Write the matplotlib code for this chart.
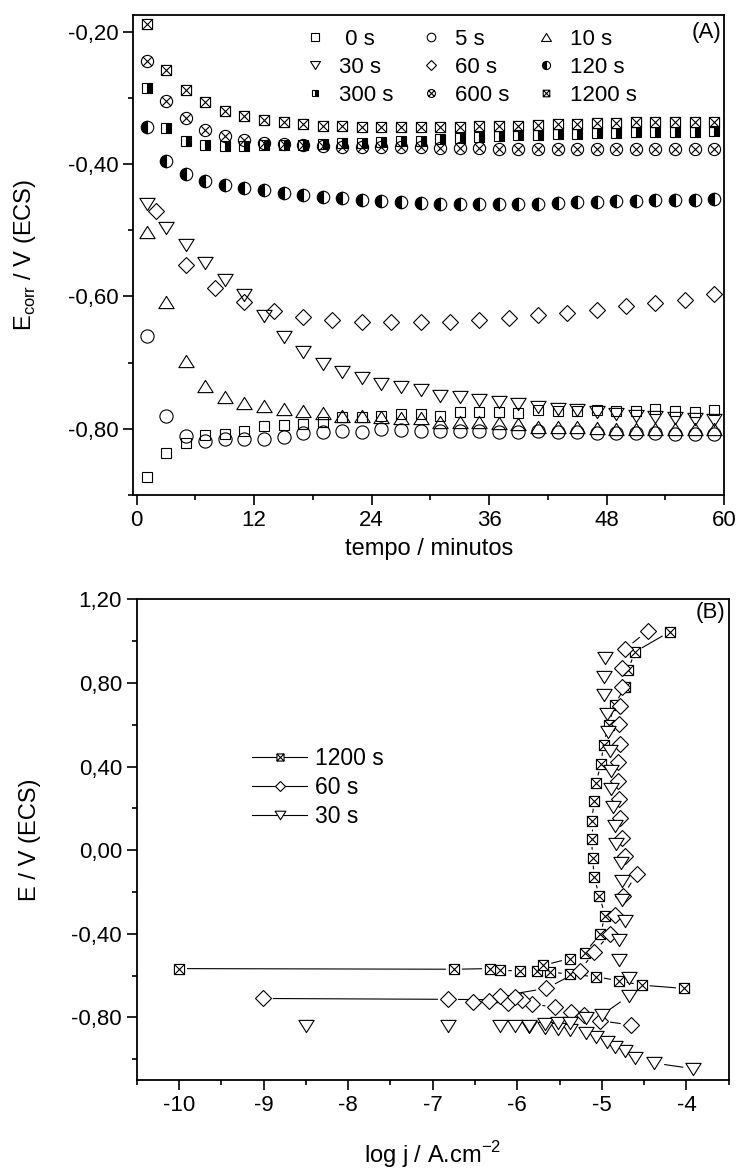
import matplotlib
matplotlib.use("Agg")
import numpy as np
import matplotlib.pyplot as plt
from matplotlib.path import Path
from matplotlib.lines import Line2D
from matplotlib.collections import LineCollection
from matplotlib.ticker import FuncFormatter, MultipleLocator

plt.rcParams['font.family'] = ['Liberation Sans', 'DejaVu Sans']

# ---------------- panel (A): Ecorr vs time ----------------
t_odd = list(range(1, 60, 2))
t_60s = list(range(2, 60, 3))

e_0s = [-0.873, -0.836, -0.821, -0.810, -0.808, -0.803, -0.796, -0.794, -0.793, -0.789,
        -0.782, -0.782, -0.780, -0.777, -0.777, -0.780, -0.775, -0.774, -0.774, -0.776,
        -0.771, -0.773, -0.773, -0.772, -0.773, -0.773, -0.770, -0.773, -0.774, -0.771]
e_5s = [-0.660, -0.781, -0.811, -0.818, -0.816, -0.816, -0.815, -0.812, -0.806, -0.805,
        -0.804, -0.805, -0.801, -0.802, -0.804, -0.804, -0.803, -0.804, -0.805, -0.805,
        -0.804, -0.805, -0.805, -0.806, -0.806, -0.806, -0.807, -0.808, -0.808, -0.808]
e_10s = [-0.503, -0.608, -0.698, -0.736, -0.752, -0.761, -0.765, -0.770, -0.773, -0.776,
         -0.780, -0.781, -0.782, -0.783, -0.784, -0.789, -0.790, -0.790, -0.792, -0.793,
         -0.798, -0.798, -0.798, -0.799, -0.800, -0.800, -0.800, -0.800, -0.800, -0.800]
e_30s = [-0.460, -0.497, -0.523, -0.549, -0.575, -0.598, -0.629, -0.661, -0.684, -0.702,
         -0.714, -0.723, -0.732, -0.737, -0.742, -0.750, -0.752, -0.757, -0.760, -0.762,
         -0.767, -0.770, -0.772, -0.775, -0.777, -0.780, -0.782, -0.783, -0.785, -0.786]
e_60s = [-0.471, -0.553, -0.588, -0.608, -0.622, -0.631, -0.636, -0.638, -0.639, -0.639,
         -0.638, -0.636, -0.632, -0.628, -0.625, -0.620, -0.615, -0.610, -0.606, -0.596]
e_120s = [-0.344, -0.395, -0.415, -0.425, -0.432, -0.437, -0.440, -0.444, -0.447, -0.450,
          -0.452, -0.454, -0.456, -0.458, -0.459, -0.460, -0.461, -0.461, -0.461, -0.460,
          -0.460, -0.459, -0.458, -0.457, -0.456, -0.456, -0.455, -0.455, -0.454, -0.453]
e_300s = [-0.285, -0.345, -0.365, -0.372, -0.373, -0.373, -0.372, -0.372, -0.371, -0.370,
          -0.369, -0.368, -0.367, -0.366, -0.365, -0.363, -0.361, -0.359, -0.358, -0.357,
          -0.356, -0.355, -0.354, -0.353, -0.353, -0.352, -0.352, -0.351, -0.351, -0.350]
e_600s = [-0.245, -0.305, -0.330, -0.348, -0.358, -0.364, -0.368, -0.370, -0.372, -0.373,
          -0.374, -0.374, -0.375, -0.375, -0.375, -0.376, -0.376, -0.376, -0.377, -0.377,
          -0.377, -0.377, -0.377, -0.377, -0.377, -0.377, -0.377, -0.377, -0.377, -0.377]
e_1200s = [-0.188, -0.258, -0.288, -0.307, -0.320, -0.328, -0.333, -0.337, -0.340, -0.342,
           -0.343, -0.344, -0.344, -0.344, -0.344, -0.344, -0.344, -0.343, -0.343, -0.342,
           -0.341, -0.340, -0.339, -0.338, -0.338, -0.337, -0.337, -0.336, -0.336, -0.336]

# ---------------- panel (B): polarisation curves ----------------
logj_1200 = [-4.03, -4.53, -4.80, -5.07, -5.38, -5.61, -5.77, -5.97, -6.20, -6.32, -6.75, -10.0,
             -5.69, -5.38, -5.20, -5.02, -4.96, -5.03, -5.09, -5.11, -5.12, -5.12, -5.09, -5.07,
             -5.01, -4.98, -4.92, -4.85, -4.73, -4.69, -4.61, -4.20]
e_1200 = [-0.662, -0.646, -0.625, -0.606, -0.594, -0.583, -0.578, -0.578, -0.575, -0.567, -0.570, -0.567,
          -0.551, -0.519, -0.490, -0.403, -0.313, -0.220, -0.130, -0.036, 0.053, 0.140, 0.236, 0.320,
          0.413, 0.505, 0.600, 0.693, 0.780, 0.860, 0.948, 1.044]
breaks_1200 = [11]

logj_60 = [-4.66, -5.02, -5.21, -5.37, -5.55, -5.82, -6.11, -6.52, -6.33, -5.94, -6.82, -9.01,
           -6.03, -6.20, -5.66, -5.26, -5.09, -4.90, -4.85, -4.75, -4.59, -4.73, -4.76, -4.78,
           -4.80, -4.81, -4.81, -4.79, -4.80, -4.78, -4.76, -4.76, -4.73, -4.46]
e_60 = [-0.837, -0.816, -0.789, -0.773, -0.752, -0.737, -0.733, -0.725, -0.721, -0.717, -0.714, -0.710,
        -0.702, -0.698, -0.662, -0.578, -0.487, -0.400, -0.310, -0.220, -0.115, -0.028, 0.060, 0.152,
        0.243, 0.333, 0.420, 0.509, 0.601, 0.689, 0.780, 0.869, 0.960, 1.049]
breaks_60 = [11]

logj_30 = [-3.92, -4.38, -4.61, -4.73, -4.84, -4.94, -5.07, -5.19, -5.38, -5.52, -5.67, -5.86,
           -6.03, -6.21, -6.82, -8.50, -5.86, -5.67, -5.52, -5.38, -5.19, -5.00, -4.68, -4.68,
           -4.80, -4.80, -4.73, -4.76, -4.76, -4.77, -4.83, -4.85, -4.87, -4.89, -4.89, -4.90,
           -4.93, -4.94, -4.97, -4.97, -4.96]
e_30 = [-1.046, -1.019, -0.995, -0.963, -0.940, -0.916, -0.892, -0.876, -0.862, -0.858, -0.852, -0.848,
        -0.844, -0.844, -0.844, -0.844, -0.841, -0.832, -0.829, -0.825, -0.805, -0.789, -0.698, -0.614,
        -0.527, -0.432, -0.337, -0.240, -0.150, -0.064, 0.029, 0.116, 0.204, 0.293, 0.380, 0.473,
        0.564, 0.649, 0.740, 0.828, 0.920]
breaks_30 = [13, 14, 15]

# custom marker shapes (Origin style)
box_x = Path([(-1, -1), (1, -1), (1, 1), (-1, 1), (-1, -1), (-1, -1), (1, 1), (-1, 1), (1, -1)],
             [1, 2, 2, 2, 79, 1, 2, 1, 2])
circle_x = Path.make_compound_path(
    Path.unit_circle(),
    Path([(-0.707, -0.707), (0.707, 0.707), (-0.707, 0.707), (0.707, -0.707)], [1, 2, 1, 2]))
tri_up = Path([(-1, -0.8), (1, -0.8), (0, 0.8), (-1, -0.8)], [1, 2, 2, 79])
tri_dn = Path([(-1, 0.8), (1, 0.8), (0, -0.8), (-1, 0.8)], [1, 2, 2, 79])

fmt2 = FuncFormatter(lambda v, p: f"{v:.2f}".replace('.', ','))
fmt0 = FuncFormatter(lambda v, p: f"{v:.0f}")


def gap_line(ax, x, y, gap, breaks=()):
    # Origin-like connecting line that stops short of each symbol
    pts = ax.transData.transform(np.column_stack([x, y]))
    inv = ax.transData.inverted()
    segs = []
    for i in range(len(pts) - 1):
        if i in breaks:
            continue
        d = pts[i + 1] - pts[i]
        L = np.hypot(*d)
        if L <= 2 * gap + 2:
            continue
        u = d / L
        segs.append(inv.transform([pts[i] + u * gap, pts[i + 1] - u * gap]))
    ax.add_collection(LineCollection(segs, colors='black', linewidths=0.8, zorder=1))


fig = plt.figure(figsize=(7.42, 11.72), dpi=100)
axA = fig.add_axes([133.3 / 742, 1 - 495 / 1172, 590.7 / 742, 480 / 1172])
axB = fig.add_axes([136.7 / 742, 1 - 1080 / 1172, 592 / 742, 480.7 / 1172])

mew = 0.8
kw = dict(ls='none', color='black', mec='black', mew=mew)
h0, = axA.plot(t_odd, e_0s, marker='s', ms=7.8, mfc='none', label=' 0 s', **kw)
h5, = axA.plot(t_odd, e_5s, marker='o', ms=9.5, mfc='none', label='5 s', **kw)
h10, = axA.plot(t_odd, e_10s, marker=tri_up, ms=11, mfc='none', label='10 s', **kw)
h30, = axA.plot(t_odd, e_30s, marker=tri_dn, ms=11, mfc='none', label='30 s', **kw)
h60, = axA.plot(t_60s, e_60s, marker='D', ms=7.8, mfc='none', label='60 s', **kw)
h120, = axA.plot(t_odd, e_120s, marker='o', ms=9, mfc='black', mfcalt='white', fillstyle='left',
                 label='120 s', **kw)
h300, = axA.plot(t_odd, e_300s, marker='s', ms=7.3, mfc='black', mfcalt='white', fillstyle='right',
                 label='300 s', **kw)
h600, = axA.plot(t_odd, e_600s, marker=circle_x, ms=8.8, mfc='none', label='600 s', **kw)
h1200, = axA.plot(t_odd, e_1200s, marker=box_x, ms=7.3, mfc='none', label='1200 s', **kw)

axA.set_xlim(-0.35, 60)
axA.set_ylim(-0.90, -0.175)
axA.xaxis.set_major_locator(MultipleLocator(12))
axA.xaxis.set_minor_locator(MultipleLocator(6))
axA.yaxis.set_major_locator(MultipleLocator(0.2))
axA.yaxis.set_minor_locator(MultipleLocator(0.1))
axA.yaxis.set_major_formatter(fmt2)
axA.xaxis.set_major_formatter(fmt0)
axA.set_xlabel('tempo / minutos', fontsize=17, labelpad=5)
axA.set_ylabel('E$_\\mathregular{corr}$ / V (ECS)', fontsize=17, labelpad=22)
axA.text(0.995, 0.985, '(A)', transform=axA.transAxes, ha='right', va='top', fontsize=16)
order = [h0, h30, h300, h5, h60, h600, h10, h120, h1200]
axA.legend(handles=order, labels=[h.get_label() for h in order], ncol=3, frameon=False,
           loc='upper left', bbox_to_anchor=(0.255, 1.012), fontsize=16, markerscale=0.65,
           handlelength=1.0, handletextpad=0.6, columnspacing=1.15, labelspacing=0.3)

axB.set_xlim(-10.5, -3.5)
axB.set_ylim(-1.10, 1.20)
series_b = [
    (logj_1200, e_1200, breaks_1200, box_x, 7.3, 8, '1200 s'),
    (logj_60, e_60, breaks_60, 'D', 7.8, 10, '60 s'),
    (logj_30, e_30, breaks_30, tri_dn, 11, 10, '30 s'),
]
handles_b = []
for lj, ev, brk, mk, ms, gap, lab in series_b:
    gap_line(axB, lj, ev, gap, brk)
    axB.plot(lj, ev, ls='none', marker=mk, ms=ms, mec='black', mfc='white', mew=mew, zorder=2)
    handles_b.append(Line2D([], [], color='black', lw=0.8, marker=mk, ms=ms * 0.7, mec='black',
                            mfc='white', mew=mew, label=lab))
axB.xaxis.set_major_locator(MultipleLocator(1))
axB.xaxis.set_minor_locator(MultipleLocator(0.5))
axB.yaxis.set_major_locator(MultipleLocator(0.4))
axB.yaxis.set_minor_locator(MultipleLocator(0.2))
axB.yaxis.set_major_formatter(fmt2)
axB.xaxis.set_major_formatter(fmt0)
axB.set_xlabel('log j / A.cm$^\\mathregular{-2}$', fontsize=17, labelpad=17)
axB.set_ylabel('E / V (ECS)', fontsize=17, labelpad=22)
axB.text(0.995, 0.995, '(B)', transform=axB.transAxes, ha='right', va='top', fontsize=16)
axB.legend(handles=handles_b, frameon=False, loc='upper left', bbox_to_anchor=(0.16, 0.735),
           fontsize=16.5, handlelength=2.4, handletextpad=0.35, labelspacing=0.25)

for ax in (axA, axB):
    for s in ax.spines.values():
        s.set_linewidth(1.3)
    ax.tick_params(which='major', direction='out', length=7, width=1.2, labelsize=16,
                   top=False, right=False)
    ax.tick_params(which='minor', direction='out', length=3.5, width=1.2, top=False, right=False)

fig.savefig('out.png', dpi=100)
